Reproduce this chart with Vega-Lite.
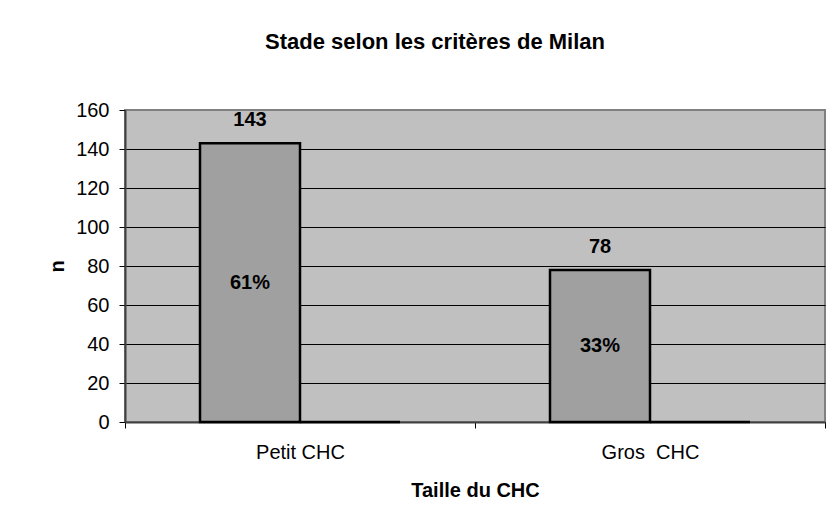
{
  "$schema": "https://vega.github.io/schema/vega-lite/v6.json",
  "width": 700,
  "height": 312,
  "autosize": {"type": "none"},
  "padding": {"left": 125, "top": 110, "right": 10, "bottom": 103},
  "background": "white",
  "config": {
    "font": "Liberation Sans",
    "view": {"fill": "#C0C0C0", "stroke": "#808080", "strokeWidth": 2}
  },
  "title": {
    "text": "Stade selon les critères de Milan",
    "font": "Liberation Sans",
    "fontSize": 22,
    "fontWeight": "bold",
    "color": "black",
    "anchor": "middle",
    "frame": "group",
    "offset": 46,
    "dx": -40
  },
  "data": {
    "values": [
      {"cat": "Petit CHC", "series": "A", "n": 143, "pct": "61%"},
      {"cat": "Petit CHC", "series": "B", "n": 0, "pct": ""},
      {"cat": "Gros \u00a0CHC", "series": "A", "n": 78, "pct": "33%"},
      {"cat": "Gros \u00a0CHC", "series": "B", "n": 0, "pct": ""}
    ]
  },
  "encoding": {
    "x": {
      "field": "cat",
      "type": "nominal",
      "sort": ["Petit CHC", "Gros \u00a0CHC"],
      "scale": {"paddingInner": 0, "paddingOuter": 0},
      "axis": {
        "title": "Taille du CHC",
        "titleFontSize": 20,
        "titleFontWeight": "bold",
        "titleColor": "black",
        "titlePadding": 18,
        "labelAngle": 0,
        "labelFontSize": 20,
        "labelColor": "black",
        "labelPadding": 14,
        "tickBand": "extent",
        "tickSize": 6,
        "tickColor": "black",
        "domainColor": "#404040",
        "domainWidth": 2,
        "grid": false
      }
    },
    "xOffset": {
      "field": "series",
      "type": "nominal",
      "scale": {"paddingInner": 0, "paddingOuter": 0.75}
    },
    "y": {
      "field": "n",
      "type": "quantitative",
      "scale": {"domain": [0, 160], "nice": false},
      "axis": {
        "title": "n",
        "titleFontSize": 20,
        "titleFontWeight": "bold",
        "titleColor": "black",
        "titlePadding": 8,
        "values": [0, 20, 40, 60, 80, 100, 120, 140, 160],
        "labelFontSize": 20,
        "labelColor": "black",
        "labelPadding": 10,
        "tickSize": 6,
        "tickColor": "black",
        "domainColor": "#404040",
        "domainWidth": 2,
        "grid": true,
        "gridColor": {"condition": {"test": "datum.value == 160", "value": "#808080"}, "value": "black"},
        "gridWidth": 1
      }
    }
  },
  "layer": [
    {
      "mark": {"type": "bar", "fill": "#A0A0A0", "stroke": "black", "strokeWidth": 2.5}
    },
    {
      "transform": [{"filter": "datum.series == 'A'"}],
      "mark": {"type": "text", "fontSize": 20, "fontWeight": "bold", "color": "black", "baseline": "alphabetic", "dy": -17},
      "encoding": {"text": {"field": "n", "type": "quantitative"}}
    },
    {
      "transform": [{"filter": "datum.series == 'A'"}],
      "mark": {"type": "text", "fontSize": 20, "fontWeight": "bold", "color": "black", "baseline": "middle", "dy": {"expr": "(scale('y', 0) - scale('y', datum.n)) / 2"}},
      "encoding": {"text": {"field": "pct", "type": "nominal"}}
    }
  ]
}
